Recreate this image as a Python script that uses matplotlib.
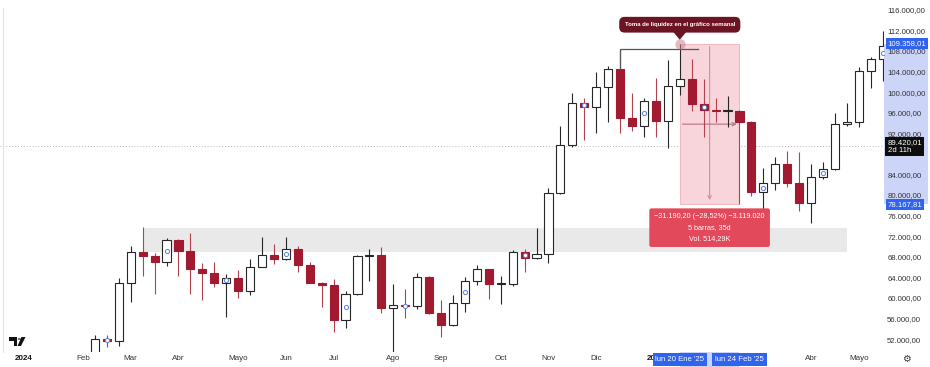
import matplotlib
matplotlib.use("Agg")
import matplotlib.pyplot as plt
from matplotlib.patches import Rectangle, Polygon, Circle
from matplotlib.lines import Line2D

plt.rcParams['font.family'] = ['Liberation Sans', 'DejaVu Sans']

# ---------------- data (weekly candles, week 1 = lun 12 Feb 2024) ----------------
week_idx = list(range(1, 68))
opens = [48300, 52000, 51700, 62900, 68850, 68150, 67050, 71250, 69200, 65550,
         64800, 62950, 63900, 61350, 66050, 68350, 67550, 69450, 66400, 62950,
         62500, 55700, 60700, 68150, 68250, 58000, 58600, 58400, 64100, 57000,
         54750, 58950, 63350, 65550, 62650, 62800, 68850, 67800, 68550, 80350,
         89700, 97950, 97150, 101050, 104400, 95000, 93450, 98250, 94450, 101150,
         102450, 97600, 96500, 96300, 96350, 94250, 80500, 82400, 85950, 82300,
         78400, 83550, 85000, 93750, 94250, 104100, 106350]
highs = [52800, 52800, 63900, 70100, 73700, 68800, 71650, 71400, 72650, 66850,
         67050, 64650, 65400, 67550, 71850, 70500, 71850, 70000, 67050, 63100,
         63600, 61350, 68300, 69450, 69950, 62650, 61650, 64900, 64300, 59600,
         60550, 64100, 66400, 65700, 64250, 69300, 69450, 73500, 81300, 93400,
         99750, 98900, 103950, 105050, 108300, 99750, 98800, 102650, 106200, 109358.01,
         106400, 102450, 98800, 99300, 96500, 94300, 85200, 87450, 88600, 88400,
         86000, 86450, 95850, 97800, 104900, 106750, 111900]
lows = [47000, 50500, 50700, 59150, 64300, 60700, 66250, 64300, 60700, 59550,
        62200, 56350, 60050, 60550, 65950, 66600, 67450, 64950, 62850, 58300,
        53450, 54200, 60600, 63300, 57000, 49000, 56050, 57850, 56950, 52450,
        54600, 57300, 62500, 59750, 58750, 62300, 65100, 67600, 66700, 80200,
        89300, 90700, 92000, 94250, 92100, 92500, 91300, 91200, 89050, 99400,
        96300, 91300, 94100, 93250, 78167.81, 79850, 76600, 80950, 81500, 76950,
        74500, 83050, 84800, 93400, 93250, 100700, 102150]
closes = [52000, 51700, 62900, 68850, 68150, 67050, 71250, 69150, 65550, 64800,
          62950, 63900, 61350, 66050, 68350, 67550, 69450, 66400, 62950, 62500,
          55700, 60700, 68150, 68250, 58000, 58600, 58400, 64100, 57000, 54750,
          58950, 63350, 65550, 62650, 62800, 68850, 67800, 68550, 80350, 89700,
          97950, 97150, 101050, 104400, 95000, 93450, 98250, 94450, 101150, 102450,
          97600, 96500, 96300, 96400, 94250, 80500, 82400, 85950, 82300, 78400,
          83550, 85000, 93750, 94250, 104100, 106350, 108950]
marker_weeks = [2, 7, 12, 17, 22, 27, 32, 37, 42, 47, 52, 57, 62, 67]

month_ticks = [-5, 0, 4, 8, 13, 17, 21, 26, 30, 35, 39, 43, 48, 61, 65]
month_labels = ['2024', 'Feb', 'Mar', 'Abr', 'Mayo', 'Jun', 'Jul', 'Ago', 'Sep',
                'Oct', 'Nov', 'Dic', '2025', 'Abr', 'Mayo']
price_ticks = list(range(52000, 116001, 4000))
hidden_price_ticks = [88000]   # covered by the crosshair price label

zone_start, zone_end = 5, 64
zone_low, zone_high = 68900, 73600
liq_start, liq_end, liq_level = 45, 51.5, 108300
meas_start, meas_end = 50, 55
meas_top, meas_bottom = 109358.01, 78167.81
crosshair_price = 89420.01
callout_text = "Toma de liquidez en el gráfico semanal"
measure_text = "\u221231.190,20 (\u221228,52%) \u22123.119.020\n5 barras, 35d\nVol. 514,29K"
date_labels = [(50, "lun 20 Ene '25"), (55, "lun 24 Feb '25")]

# ---------------- figure ----------------
W, H = 930, 367
fig = plt.figure(figsize=(W / 100, H / 100), dpi=100, facecolor='white')
ax = fig.add_axes([0, 15 / H, 884 / W, 352 / H])
ax.set_facecolor('white')
ax.set_xlim(-6.95, 67.11)
ax.set_ylim(49491, 117885)
for s in ax.spines.values():
    s.set_visible(False)

def fmt(v):
    s = f"{v:,.2f}"
    return s.replace(',', 'X').replace('.', ',').replace('X', '.')

RED = '#a11a30'
REDW = '#b3424f'
DARK = '#262626'

# zone
ax.add_patch(Rectangle((zone_start, zone_low), zone_end - zone_start, zone_high - zone_low,
                       facecolor='#e9e9e9', edgecolor='none', zorder=0.5))
# crosshair
ax.axhline(crosshair_price, color='#b5b5b5', lw=0.7, ls=(0, (1, 2)), zorder=0.6)

# measurement rectangle
ax.add_patch(Rectangle((meas_start, meas_bottom), meas_end - meas_start, meas_top - meas_bottom,
                       facecolor='#f7d5da', edgecolor='#ecb3bb', lw=0.6, zorder=0.8))
mid_x = (meas_start + meas_end) / 2
mid_y = (meas_top + meas_bottom) / 2
ax.annotate('', xy=(mid_x, meas_bottom + 300), xytext=(mid_x, meas_top),
            arrowprops=dict(arrowstyle='->', color='#d98c97', lw=0.8, mutation_scale=6), zorder=0.9)
ax.annotate('', xy=(meas_end, mid_y), xytext=(meas_start, mid_y),
            arrowprops=dict(arrowstyle='->', color='#b9707c', lw=0.8, mutation_scale=6), zorder=0.9)

# candles
bw = 0.68
for i, o, h, l, c in zip(week_idx, opens, highs, lows, closes):
    up = c >= o
    wc = DARK if up else REDW
    ax.vlines(i, l, h, color=wc, lw=0.8, zorder=2)
    bottom = min(o, c)
    height = max(abs(c - o), 180)
    ax.add_patch(Rectangle((i - bw / 2, bottom), bw, height,
                           facecolor='white' if up else RED,
                           edgecolor=DARK if up else RED, lw=0.8, zorder=3))

mx = [i for i in marker_weeks]
my = [(opens[i - 1] + closes[i - 1]) / 2 for i in marker_weeks]
ax.scatter(mx, my, s=9, facecolor='white', edgecolor='#5b80de', linewidths=0.7, zorder=4)

# liquidity line (L-shape from the swing high candle)
liq_body_top = max(opens[liq_start - 1], closes[liq_start - 1])
ax.plot([liq_start, liq_start, liq_end], [liq_body_top, liq_level, liq_level],
        color='#555555', lw=0.9, zorder=4, solid_joinstyle='miter')

# callout
ax.scatter([meas_start], [meas_top], s=55, color='#c98490', alpha=0.55, zorder=5, linewidths=0)
ax.text(meas_start, 113080, callout_text, ha='center', va='center', fontsize=4.3,
        fontweight='bold', color='white', zorder=7,
        bbox=dict(boxstyle='round,pad=0.9,rounding_size=0.9', facecolor='#6d1424', edgecolor='none'))
ax.add_patch(Polygon([(meas_start - 0.55, 111700), (meas_start + 0.55, 111700),
                      (meas_start, 110150)], closed=True, facecolor='#6d1424',
                     edgecolor='none', zorder=7))

# measurement label
ax.text(mid_x, 73650, measure_text, ha='center', va='center', fontsize=5.2,
        color='white', linespacing=1.75, zorder=7,
        bbox=dict(boxstyle='round,pad=0.7,rounding_size=0.3', facecolor='#e2495b', edgecolor='none'))

# axes ticks
ax.yaxis.tick_right()
ax.set_yticks(price_ticks)
ax.set_yticklabels(['' if p in hidden_price_ticks else fmt(p) for p in price_ticks])
ax.tick_params(axis='y', length=0, pad=2.3, labelsize=5.6, labelcolor='#333333')
ax.set_xticks(month_ticks)
ax.set_xticklabels(month_labels)
ax.tick_params(axis='x', length=0, pad=2.5, labelsize=5.8, labelcolor='#333333')
for t in ax.get_xticklabels():
    if t.get_text() in ('2024', '2025'):
        t.set_fontweight('bold')
        t.set_color('#111111')

# price-axis band and labels
ytr = ax.get_yaxis_transform()
xtr = ax.get_xaxis_transform()
ax.add_patch(Rectangle((1.0, meas_bottom), 0.05, meas_top - meas_bottom, transform=ytr,
                       facecolor='#ccd4f8', edgecolor='none', clip_on=False, zorder=0.4))
ax.text(1.004, meas_top, fmt(meas_top), transform=ytr, ha='left', va='center', fontsize=5.6,
        color='white', zorder=8, clip_on=False,
        bbox=dict(boxstyle='square,pad=0.25', facecolor='#2f63f0', edgecolor='none'))
ax.text(1.004, meas_bottom, fmt(meas_bottom), transform=ytr, ha='left', va='center', fontsize=5.6,
        color='white', zorder=8, clip_on=False,
        bbox=dict(boxstyle='square,pad=0.25', facecolor='#2f63f0', edgecolor='none'))
ax.text(1.004, crosshair_price, fmt(crosshair_price) + "\n2d 11h", transform=ytr, ha='left',
        va='center', fontsize=5.6, color='white', zorder=8, clip_on=False, linespacing=1.1,
        bbox=dict(boxstyle='square,pad=0.3', facecolor='#0d0d0d', edgecolor='none'))

# time-axis band and date labels
ax.add_patch(Rectangle((meas_start, -0.043), meas_end - meas_start, 0.043, transform=xtr,
                       facecolor='#ccd4f8', edgecolor='none', clip_on=False, zorder=6))
for xi, lab in date_labels:
    ax.text(xi, -0.021, lab, transform=xtr, ha='center', va='center', fontsize=5.6,
            color='white', zorder=8, clip_on=False,
            bbox=dict(boxstyle='square,pad=0.35', facecolor='#2f63f0', edgecolor='none'))

# frame details
def px(x, y):
    return (x / W, 1 - y / H)

fig.add_artist(Line2D([px(2.5, 0)[0], px(2.5, 0)[0]], [px(0, 8)[1], px(0, 352)[1]],
                      transform=fig.transFigure, color='#e4e4e4', lw=0.8))
# logo
fig.add_artist(Polygon([px(9, 337), px(17, 337), px(17, 346), px(13.5, 346), px(13.5, 340.5), px(9, 340.5)],
                       closed=True, transform=fig.transFigure, facecolor='#111111', edgecolor='none'))
fig.add_artist(Circle(px(19.3, 339), 1.6 / W, transform=fig.transFigure, facecolor='#111111', edgecolor='none'))
fig.add_artist(Polygon([px(21.5, 337), px(25.5, 337), px(21, 346), px(17.5, 346)],
                       closed=True, transform=fig.transFigure, facecolor='#111111', edgecolor='none'))
fig.text(906 / W, 1 - 359 / H, '\u2699', ha='center', va='center', fontsize=7, color='#333333')

fig.savefig('out.png', dpi=100, facecolor='white')
